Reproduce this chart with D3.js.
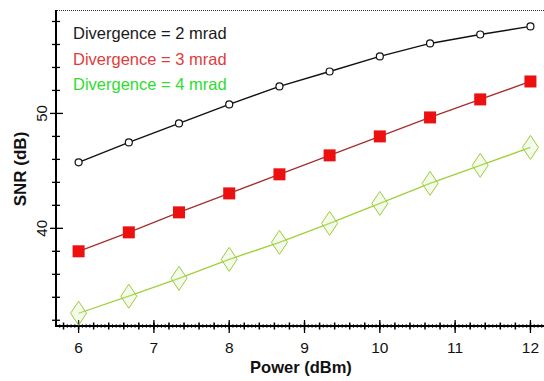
<!DOCTYPE html>
<html><head><meta charset="utf-8">
<script src="https://cdn.jsdelivr.net/npm/d3@7"></script>
<style>html,body{margin:0;padding:0;background:#fff;}svg{display:block;font-family:Arial,"Liberation Sans",sans-serif;}</style>
</head><body>
<svg id="c" width="544" height="381"></svg>
<script>
const power = [6, 6.667, 7.333, 8, 8.667, 9.333, 10, 10.667, 11.333, 12];
const snr2mrad = [45.74, 47.48, 49.13, 50.78, 52.35, 53.65, 54.96, 56.09, 56.87, 57.57];
const snr3mrad = [38.0, 39.65, 41.39, 43.04, 44.70, 46.35, 48.0, 49.65, 51.22, 52.78];
const snr4mrad = [32.61, 34.09, 35.65, 37.30, 38.78, 40.43, 42.17, 43.91, 45.48, 47.04];
const seriesNames = ["Divergence = 2 mrad", "Divergence = 3 mrad", "Divergence = 4 mrad"];
const xTicks = [6, 7, 8, 9, 10, 11, 12];
const yTicks = [40, 50];
const xLabel = "Power (dBm)";
const yLabel = "SNR (dB)";

const svg = d3.select("#c");
const x = d3.scaleLinear().domain([5.7, 12.18]).range([56, 544]);
const y = d3.scaleLinear().domain([31.5, 59]).range([326, 10]);

// top dotted border
svg.append("line").attr("x1", 57).attr("x2", 544).attr("y1", 10.5).attr("y2", 10.5)
  .attr("stroke", "#333").attr("stroke-width", 1).attr("stroke-dasharray", "1,1");

// x axis
const xa = svg.append("g");
xa.append("line").attr("x1", 56).attr("x2", 544).attr("y1", 326).attr("y2", 326).attr("stroke", "#000").attr("stroke-width", 2);
const tiny = d3.range(5.75, 12.18, 0.05);
xa.selectAll(".tt").data(tiny).join("line").attr("x1", d => x(d)).attr("x2", d => x(d))
  .attr("y1", 324).attr("y2", 328).attr("stroke", "#000").attr("stroke-width", 0.7);
const minorX = d3.range(5.8, 12.18, 0.2);
xa.selectAll(".mx").data(minorX).join("line").attr("x1", d => x(d)).attr("x2", d => x(d))
  .attr("y1", 322.5).attr("y2", 329.5).attr("stroke", "#000").attr("stroke-width", 1.5);
xa.selectAll(".Mx").data(xTicks).join("line").attr("x1", d => x(d)).attr("x2", d => x(d))
  .attr("y1", 320).attr("y2", 333).attr("stroke", "#000").attr("stroke-width", 1.3);
xa.selectAll(".xl").data(xTicks).join("text").attr("x", d => x(d)).attr("y", 353)
  .attr("text-anchor", "middle").attr("font-size", 15.5).attr("fill", "#111").text(d => d);
svg.append("text").attr("x", 301).attr("y", 373).attr("text-anchor", "middle")
  .attr("font-size", 16.5).attr("font-weight", "bold").attr("fill", "#111").text(xLabel);

// y axis
const ya = svg.append("g");
ya.append("line").attr("x1", 56).attr("x2", 56).attr("y1", 10).attr("y2", 327).attr("stroke", "#000").attr("stroke-width", 2);
const minorY = d3.range(32, 59, 2).filter(v => !yTicks.includes(v));
ya.selectAll(".my").data(minorY).join("line").attr("x1", 52).attr("x2", 60)
  .attr("y1", d => y(d)).attr("y2", d => y(d)).attr("stroke", "#000").attr("stroke-width", 1.3);
ya.selectAll(".My").data(yTicks).join("line").attr("x1", 50).attr("x2", 63)
  .attr("y1", d => y(d)).attr("y2", d => y(d)).attr("stroke", "#000").attr("stroke-width", 1.3);
ya.selectAll(".yl").data(yTicks).join("text")
  .attr("transform", d => `translate(47,${y(d)}) rotate(-90)`)
  .attr("text-anchor", "middle").attr("font-size", 15).attr("fill", "#111").text(d => d);
svg.append("text").attr("transform", "translate(26,169) rotate(-90)").attr("text-anchor", "middle")
  .attr("font-size", 17).attr("font-weight", "bold").attr("fill", "#111").text(yLabel);

const line = d3.line().x(d => x(d[0])).y(d => y(d[1]));
const d2 = power.map((p, i) => [p, snr2mrad[i]]);
const d3m = power.map((p, i) => [p, snr3mrad[i]]);
const d4 = power.map((p, i) => [p, snr4mrad[i]]);

// green series
svg.append("path").datum(d4).attr("d", line).attr("fill", "none").attr("stroke", "#9fd03a").attr("stroke-width", 1.3);
svg.selectAll(".dia").data(d4).join("path")
  .attr("d", d => { const cx = x(d[0]), cy = y(d[1]); return `M${cx},${cy-12}L${cx+8},${cy}L${cx},${cy+12}L${cx-8},${cy}Z`; })
  .attr("fill", "rgba(210,240,170,0.25)").attr("stroke", "#9ccc3c").attr("stroke-width", 1);

// red series
svg.append("path").datum(d3m).attr("d", line).attr("fill", "none").attr("stroke", "#a3302f").attr("stroke-width", 1.3);
svg.selectAll(".sq").data(d3m).join("rect")
  .attr("x", d => x(d[0]) - 6).attr("y", d => y(d[1]) - 6).attr("width", 12).attr("height", 12)
  .attr("fill", "#ec1010");

// black series
svg.append("path").datum(d2).attr("d", line).attr("fill", "none").attr("stroke", "#111").attr("stroke-width", 1.4);
svg.selectAll(".ci").data(d2).join("circle")
  .attr("cx", d => x(d[0])).attr("cy", d => y(d[1])).attr("r", 3.5)
  .attr("fill", "#fff").attr("stroke", "#111").attr("stroke-width", 1.2);

// legend
const legColors = ["#1a1a1a", "#e03c3c", "#2fdc2f"];
svg.selectAll(".leg").data(seriesNames).join("text")
  .attr("x", 73).attr("y", (d, i) => 39 + i * 25.5)
  .attr("font-size", 16.5).attr("fill", (d, i) => legColors[i]).text(d => d);
</script>
</body></html>
